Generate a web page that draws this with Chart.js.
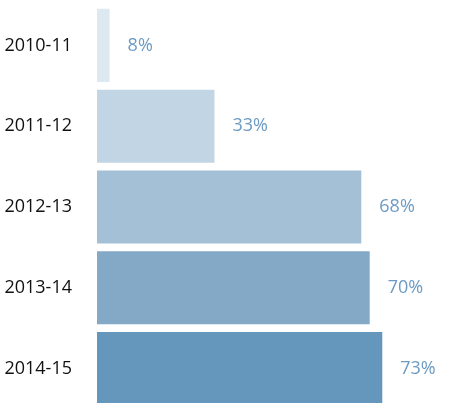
<!DOCTYPE html>
<html>
<head>
<meta charset="utf-8">
<script src="https://cdn.jsdelivr.net/npm/chart.js@4"></script>
<style>
  html, body { margin: 0; padding: 0; background: #ffffff; overflow: hidden; }
  canvas { display: block; }
</style>
</head>
<body>
<canvas id="chart" width="462" height="409"></canvas>
<script>
// School years and the share reported for each
const years = ['2010-11', '2011-12', '2012-13', '2013-14', '2014-15'];
const shares = [8, 33, 68, 70, 73];
const barColors = ['#dde9f0', '#c2d5e4', '#a3c0d6', '#84a9c6', '#6596bb'];

// Writes "NN%" just past the end of each bar
const valueLabels = {
  id: 'valueLabels',
  afterDatasetsDraw(chart) {
    const { ctx } = chart;
    const meta = chart.getDatasetMeta(0);
    ctx.save();
    ctx.font = '18px "Open Sans", sans-serif';
    ctx.fillStyle = '#6b9bc3';
    ctx.textAlign = 'left';
    ctx.textBaseline = 'middle';
    meta.data.forEach((bar, i) => {
      ctx.fillText(shares[i] + '%', bar.x + 18, bar.y);
    });
    ctx.restore();
  }
};

new Chart(document.getElementById('chart'), {
  type: 'bar',
  data: {
    labels: years,
    datasets: [{
      data: shares,
      backgroundColor: barColors,
      borderWidth: 0,
      barPercentage: 0.905,
      categoryPercentage: 1
    }]
  },
  options: {
    indexAxis: 'y',
    responsive: false,
    animation: false,
    layout: { padding: { top: 5, right: 0, bottom: 0, left: 0 } },
    plugins: {
      legend: { display: false },
      tooltip: { enabled: false }
    },
    scales: {
      x: {
        display: false,
        min: 5,
        max: 92
      },
      y: {
        grid: { display: false, drawTicks: false },
        border: { display: false },
        afterFit(scale) {
          scale.width = 97;
          // keep the label gap from eating into the plot height
          scale.paddingTop = 0;
          scale.paddingBottom = 0;
        },
        ticks: {
          padding: 25,
          color: '#111111',
          font: { family: '"Open Sans", sans-serif', size: 18 }
        }
      }
    }
  },
  plugins: [valueLabels]
});
</script>
</body>
</html>
